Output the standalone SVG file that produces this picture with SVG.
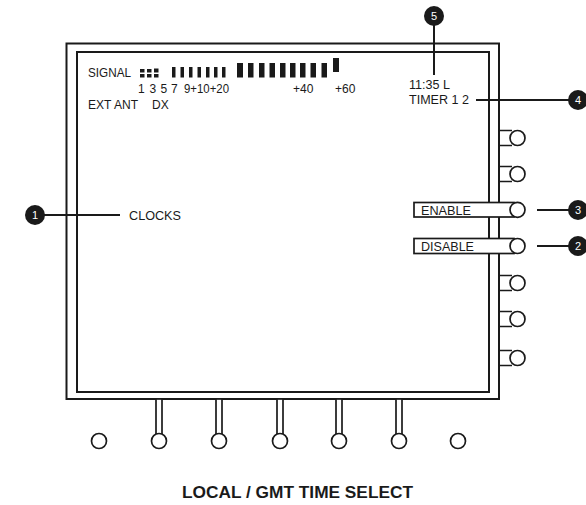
<svg xmlns="http://www.w3.org/2000/svg" width="586" height="505" viewBox="0 0 586 505">
<style>
.ln{fill:none;stroke:#1a1a1a;stroke-width:2}
.btn{fill:#fff;stroke:#1a1a1a;stroke-width:1.7}
.t{font-family:"Liberation Sans",Arial,sans-serif;font-size:12px;fill:#1a1a1a}
.bar{fill:#1a1a1a}
.co{fill:#1a1a1a}
.cn{font-family:"Liberation Sans",Arial,sans-serif;font-size:11px;fill:#fff;text-anchor:middle}
.title{font-family:"Liberation Sans Narrow","Liberation Sans",Arial,sans-serif;font-size:16px;font-weight:bold;fill:#1a1a1a}
</style>
<rect width="586" height="505" fill="#fff"/>
<g id="connectors">
<line class="ln" x1="35" y1="215" x2="120" y2="215"/>
<line class="ln" x1="537" y1="246" x2="578" y2="246"/>
<line class="ln" x1="537" y1="210" x2="578" y2="210"/>
<line class="ln" x1="476" y1="100" x2="578" y2="100"/>
<line class="ln" x1="434" y1="16" x2="434" y2="75"/>
</g>
<g id="frame">
<rect class="ln" x="66.5" y="43.5" width="432.5" height="355.5"/>
<rect class="ln" x="77" y="52" width="412" height="340"/>
</g>
<g id="display">
<text class="t" x="88" y="77" textLength="43" lengthAdjust="spacingAndGlyphs">SIGNAL</text>
<g class="bar">
<rect x="140" y="69" width="4.5" height="3.5"/><rect x="140" y="74" width="4.5" height="3.5"/>
<rect x="147" y="69" width="4.5" height="3.5"/><rect x="147" y="74" width="4.5" height="3.5"/>
<rect x="154" y="68.5" width="4.5" height="4"/><rect x="154" y="74" width="4.5" height="3.5"/>
<rect x="172" y="67" width="3.5" height="10.5"/>
<rect x="180.5" y="67" width="3.5" height="10.5"/>
<rect x="189" y="67" width="3.5" height="10.5"/>
<rect x="197.5" y="67" width="3.5" height="10.5"/>
<rect x="206" y="67" width="3.5" height="10.5"/>
<rect x="214" y="67" width="3.5" height="10.5"/>
<rect x="222" y="67" width="3.5" height="10.5"/>
<rect x="237" y="63" width="6" height="14.5"/>
<rect x="248" y="63" width="5.5" height="14.5"/>
<rect x="259" y="63" width="5.5" height="14.5"/>
<rect x="269.5" y="63" width="5.5" height="14.5"/>
<rect x="280" y="63" width="5.5" height="14.5"/>
<rect x="290" y="63" width="5.5" height="14.5"/>
<rect x="300" y="63" width="5.5" height="14.5"/>
<rect x="310.5" y="63" width="5.5" height="14.5"/>
<rect x="321.5" y="63" width="5.5" height="14.5"/>
<rect x="333" y="58" width="6" height="14"/>
</g>
<text class="t" x="138" y="93">1</text>
<text class="t" x="149.5" y="93">3</text>
<text class="t" x="160.5" y="93">5</text>
<text class="t" x="171" y="93">7</text>
<text class="t" x="184" y="93" textLength="45" lengthAdjust="spacingAndGlyphs">9+10+20</text>
<text class="t" x="293" y="93">+40</text>
<text class="t" x="335" y="93">+60</text>
<text class="t" x="88" y="109" textLength="50" lengthAdjust="spacingAndGlyphs">EXT ANT</text>
<text class="t" x="152" y="109">DX</text>
<text class="t" x="409" y="88.5" textLength="41" lengthAdjust="spacingAndGlyphs">11:35 L</text>
<text class="t" x="409" y="104" textLength="60" lengthAdjust="spacingAndGlyphs">TIMER 1 2</text>
<text class="t" x="129" y="219.5" textLength="52" lengthAdjust="spacingAndGlyphs">CLOCKS</text>
</g>
<g id="softkeys-right">
<g id="key-r1"><path class="btn" d="M499 130.5H512M499 145.5H512"/><circle class="btn" cx="517.5" cy="138" r="7.5"/></g>
<g id="key-r2"><path class="btn" d="M499 166.5H512M499 181.5H512"/><circle class="btn" cx="517.5" cy="174" r="7.5"/></g>
<g id="key-enable"><rect class="btn" x="414" y="202.5" width="100" height="14.5"/><circle class="btn" cx="517.5" cy="209.8" r="7.5"/>
<text class="t" x="421" y="214.5" textLength="50" lengthAdjust="spacingAndGlyphs">ENABLE</text></g>
<g id="key-disable"><rect class="btn" x="414" y="238.5" width="100" height="15"/><circle class="btn" cx="517.5" cy="246" r="7.5"/>
<text class="t" x="421" y="251" textLength="53" lengthAdjust="spacingAndGlyphs">DISABLE</text></g>
<g id="key-r5"><path class="btn" d="M499 275.5H512M499 290.5H512"/><circle class="btn" cx="517.5" cy="283" r="7.5"/></g>
<g id="key-r6"><path class="btn" d="M499 311.5H512M499 326.5H512"/><circle class="btn" cx="517.5" cy="319" r="7.5"/></g>
<g id="key-r7"><path class="btn" d="M499 350.5H512M499 365.5H512"/><circle class="btn" cx="517.5" cy="358" r="7.5"/></g>
</g>
<g id="softkeys-bottom">
<g id="key-b1"><circle class="btn" cx="99" cy="441" r="7.5"/></g>
<g id="key-b2"><rect class="btn" x="156" y="399" width="6" height="35"/><circle class="btn" cx="159" cy="441" r="7.5"/></g>
<g id="key-b3"><rect class="btn" x="216" y="399" width="6" height="35"/><circle class="btn" cx="219" cy="441" r="7.5"/></g>
<g id="key-b4"><rect class="btn" x="277" y="399" width="6" height="35"/><circle class="btn" cx="280" cy="441" r="7.5"/></g>
<g id="key-b5"><rect class="btn" x="336" y="399" width="6" height="35"/><circle class="btn" cx="339" cy="441" r="7.5"/></g>
<g id="key-b6"><rect class="btn" x="396" y="399" width="6" height="35"/><circle class="btn" cx="399" cy="441" r="7.5"/></g>
<g id="key-b7"><circle class="btn" cx="458" cy="441" r="7.5"/></g>
</g>
<g id="callout-1"><circle class="co" cx="35" cy="215" r="10"/><text class="cn" x="35" y="219">1</text></g>
<g id="callout-2"><circle class="co" cx="578" cy="246" r="10"/><text class="cn" x="578" y="250">2</text></g>
<g id="callout-3"><circle class="co" cx="578" cy="210" r="10"/><text class="cn" x="578" y="214">3</text></g>
<g id="callout-4"><circle class="co" cx="578" cy="100" r="10"/><text class="cn" x="578" y="104">4</text></g>
<g id="callout-5"><circle class="co" cx="434" cy="16" r="10"/><text class="cn" x="434" y="20">5</text></g>
<text class="title" x="182" y="498" textLength="231" lengthAdjust="spacingAndGlyphs">LOCAL / GMT TIME SELECT</text>
</svg>
